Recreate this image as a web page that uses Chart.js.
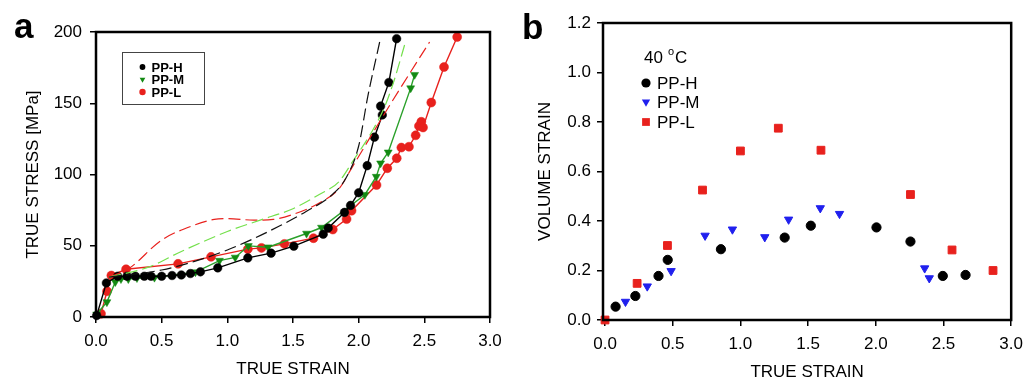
<!DOCTYPE html>
<html>
<head>
<meta charset="utf-8">
<script src="https://cdn.jsdelivr.net/npm/chart.js@4.4.1/dist/chart.umd.min.js"></script>
<style>
body { margin: 0; background: #fff; width: 1031px; height: 383px; position: relative; overflow: hidden; font-family: Arial, "Liberation Sans", sans-serif; }
.wrap { position: absolute; top: 0; height: 383px; }
#wrap-a { left: 0; width: 515px; }
#wrap-b { left: 515px; width: 516px; }
.panel-tag { position: absolute; font-weight: bold; font-size: 35px; line-height: 35px; color: #000; }
</style>
</head>
<body>
<div class="wrap" id="wrap-a"><canvas id="chart-a" width="515" height="383"></canvas></div>
<div class="wrap" id="wrap-b"><canvas id="chart-b" width="516" height="383"></canvas></div>
<div class="panel-tag" style="left:14px;top:8px">a</div>
<div class="panel-tag" style="left:522px;top:9px">b</div>
<script>
// ---- panel a: stress-strain, measured points ----
const hStrain = [0.005, 0.079, 0.165, 0.236, 0.30, 0.368, 0.419, 0.50, 0.579, 0.65, 0.719, 0.795, 0.927, 1.156, 1.333, 1.506, 1.73, 1.768, 1.892, 1.938, 2.0, 2.065, 2.12, 2.18, 2.167, 2.23, 2.289];
const hStress = [1, 23.9, 28.6, 28.6, 28.6, 28.6, 28.6, 28.6, 29.1, 29.5, 30.5, 31.7, 34.5, 41.5, 44.8, 49.7, 58.1, 62.4, 73.4, 78.3, 87.2, 106.2, 126.2, 141.8, 148.0, 164.6, 195.3];

const mStrain = [0.005, 0.083, 0.147, 0.19, 0.246, 0.312, 0.445, 0.757, 0.94, 1.06, 1.16, 1.31, 1.603, 1.717, 2.047, 2.134, 2.167, 2.225, 2.396, 2.426];
const mStress = [1.9, 10.5, 24.6, 26.7, 26.7, 27.4, 27.7, 31.5, 39.6, 41.8, 49.9, 49.0, 58.6, 62.8, 85.8, 98.5, 107.9, 115.6, 160.6, 170.0];

const lStrain = [0.038, 0.084, 0.117, 0.229, 0.625, 0.876, 1.156, 1.26, 1.435, 1.656, 1.803, 1.908, 1.946, 2.136, 2.218, 2.29, 2.325, 2.383, 2.434, 2.459, 2.477, 2.49, 2.553, 2.65, 2.75];
const lStress = [2.3, 18.1, 29.1, 33.5, 37.3, 42.2, 47.6, 48.5, 51.3, 55.3, 61.4, 68.7, 74.6, 92.6, 104.4, 111.4, 118.9, 119.5, 127.5, 134.0, 137.0, 133.0, 150.5, 175.4, 196.5];

// ---- panel a: dashed curves (no markers) ----
const hDashStrain = [0.1, 0.5, 0.75, 1.0, 1.2, 1.4, 1.6, 1.8, 1.9, 2.0, 2.07, 2.16];
const hDashStress = [28, 33, 39, 47, 55, 64, 74, 86, 97, 120, 155, 193];
const mDashStrain = [0.1, 0.4, 0.65, 1.0, 1.25, 1.5, 1.7, 1.85, 1.96, 2.1, 2.2, 2.27, 2.35];
const mDashStress = [28, 35, 46, 60, 68, 76, 86, 95, 110, 130, 148, 166, 191];
const lDashStrain = [0.1, 0.25, 0.5, 0.75, 0.9, 1.0, 1.2, 1.35, 1.5, 1.7, 1.85, 1.95, 2.1, 2.3, 2.54];
const lDashStress = [28, 34, 54, 64.5, 68.5, 69, 68, 68.5, 72, 80, 90, 105, 128, 158, 193];

// ---- panel b: volume strain at 40 C ----
const bHStrain = [0.078, 0.224, 0.395, 0.463, 0.856, 1.327, 1.52, 2.005, 2.256, 2.495, 2.663];
const bHVol = [0.054, 0.097, 0.178, 0.243, 0.286, 0.333, 0.381, 0.374, 0.317, 0.178, 0.182];
const bMStrain = [0.151, 0.312, 0.488, 0.739, 0.941, 1.18, 1.356, 1.59, 1.732, 2.361, 2.395];
const bMVol = [0.074, 0.136, 0.198, 0.341, 0.366, 0.335, 0.406, 0.452, 0.429, 0.209, 0.169];
const bLStrain = [0.0, 0.237, 0.461, 0.72, 1.0, 1.28, 1.595, 2.256, 2.563, 2.866];
const bLVol = [0.0, 0.148, 0.301, 0.525, 0.683, 0.775, 0.686, 0.507, 0.283, 0.2];

const xTicks = [0, 0.5, 1.0, 1.5, 2.0, 2.5, 3.0];
const stressTicks = [0, 50, 100, 150, 200];
const volTicks = [0, 0.2, 0.4, 0.6, 0.8, 1.0, 1.2];
const seriesNames = ['PP-H', 'PP-M', 'PP-L'];

const RED = '#e8211d';
const DKGREEN = '#138a13';
const GREEN = '#2aa02a';
const LIME = '#74e04c';
const BLUE = '#2020ee';

function pts(xs, ys) {
    return xs.map((x, i) => ({ x: x, y: ys[i] }));
}

// box around the plot area
const framePlugin = {
    id: 'frame',
    afterDraw(chart) {
        const a = chart.chartArea;
        const ctx = chart.ctx;
        ctx.save();
        ctx.strokeStyle = '#000';
        ctx.lineWidth = 2.5;
        ctx.strokeRect(a.left, a.top, a.right - a.left, a.bottom - a.top);
        ctx.restore();
    }
};

function axisFont(size) {
    return { family: 'Arial, "Liberation Sans", sans-serif', size: size };
}

function buildScales(cfg) {
    return {
        x: {
            type: 'linear',
            min: cfg.xMin,
            max: 3.0,
            afterBuildTicks: s => { s.ticks = xTicks.map(v => ({ value: v })); },
            afterFit: s => { s.height = cfg.xHeight; },
            border: { display: false },
            grid: { drawOnChartArea: false, drawTicks: true, tickLength: 6, color: '#000', lineWidth: 1.5 },
            ticks: { color: '#000', font: axisFont(17), padding: cfg.xPad, callback: v => v.toFixed(1), maxRotation: 0 },
            title: { display: true, text: 'TRUE STRAIN', color: '#000', font: axisFont(17), padding: { top: 0, bottom: cfg.xTitlePad } }
        },
        y: {
            type: 'linear',
            min: 0,
            max: cfg.yMax,
            afterBuildTicks: s => { s.ticks = cfg.yTicks.map(v => ({ value: v })); },
            afterFit: s => { s.width = cfg.yWidth; },
            border: { display: false },
            grid: { drawOnChartArea: false, drawTicks: true, tickLength: 6, color: '#000', lineWidth: 1.5 },
            ticks: { color: '#000', font: axisFont(17), padding: cfg.yPad, callback: cfg.yFmt },
            title: { display: true, text: cfg.yTitle, color: '#000', font: axisFont(17), padding: { top: cfg.yTitlePad, bottom: 0 } }
        }
    };
}

// legend of panel a (boxed, bold)
const legendA = {
    id: 'legendA',
    afterDraw(chart) {
        const ctx = chart.ctx;
        ctx.save();
        ctx.strokeStyle = '#444';
        ctx.lineWidth = 1;
        ctx.strokeRect(122.5, 52.5, 82, 52);
        const styles = [
            { pointStyle: 'circle', radius: 2.9, rotation: 0, color: '#000' },
            { pointStyle: 'triangle', radius: 3.3, rotation: 180, color: DKGREEN },
            { pointStyle: 'circle', radius: 3.2, rotation: 0, color: RED }
        ];
        const rows = [67, 79.5, 92];
        ctx.font = 'bold 13px Arial, "Liberation Sans", sans-serif';
        ctx.textBaseline = 'middle';
        styles.forEach((st, i) => {
            ctx.fillStyle = st.color;
            ctx.strokeStyle = st.color;
            Chart.helpers.drawPoint(ctx, st, 142.5, rows[i]);
            ctx.fillStyle = '#000';
            ctx.fillText(seriesNames[i], 151.5, rows[i] + 1);
        });
        ctx.restore();
    }
};

// legend of panel b (no box, with temperature)
const legendB = {
    id: 'legendB',
    afterDraw(chart) {
        const ctx = chart.ctx;
        ctx.save();
        ctx.fillStyle = '#000';
        ctx.textBaseline = 'alphabetic';
        ctx.font = '17px Arial, "Liberation Sans", sans-serif';
        ctx.fillText('40', 129, 63);
        ctx.font = '11px Arial, "Liberation Sans", sans-serif';
        ctx.fillText('o', 153, 55);
        ctx.font = '17px Arial, "Liberation Sans", sans-serif';
        ctx.fillText('C', 160, 63);
        const styles = [
            { pointStyle: 'circle', radius: 4.6, rotation: 0, color: '#000' },
            { pointStyle: 'triangle', radius: 4.8, rotation: 180, color: BLUE },
            { pointStyle: 'rect', radius: 5.5, rotation: 0, color: RED }
        ];
        const rows = [83, 102, 122];
        ctx.textBaseline = 'middle';
        styles.forEach((st, i) => {
            ctx.fillStyle = st.color;
            ctx.strokeStyle = st.color;
            Chart.helpers.drawPoint(ctx, st, 131, rows[i]);
            ctx.fillStyle = '#000';
            ctx.fillText(seriesNames[i], 142, rows[i] + 1);
        });
        ctx.restore();
    }
};

function dashed(data, color) {
    return {
        data: data, showLine: true, borderColor: color, borderWidth: 1.2,
        borderDash: [12, 5], pointRadius: 0, tension: 0.35, cubicInterpolationMode: 'monotone', fill: false
    };
}

function marked(data, lineColor, markColor, style, r) {
    return {
        data: data, showLine: true, borderColor: lineColor, borderWidth: 1.4,
        pointStyle: style, pointRadius: r, rotation: style === 'triangle' ? 180 : 0,
        pointBackgroundColor: markColor, pointBorderColor: markColor, pointBorderWidth: 0.5, tension: 0, fill: false
    };
}

new Chart(document.getElementById('chart-a'), {
    type: 'scatter',
    data: {
        datasets: [
            dashed(pts(hDashStrain, hDashStress), '#111'),
            dashed(pts(mDashStrain, mDashStress), LIME),
            dashed(pts(lDashStrain, lDashStress), RED),
            marked(pts(hStrain, hStress), '#000', '#000', 'circle', 4.3),
            marked(pts(mStrain, mStress), GREEN, DKGREEN, 'triangle', 4.6),
            marked(pts(lStrain, lStress), RED, RED, 'circle', 4.5)
        ]
    },
    options: {
        responsive: false,
        animation: false,
        clip: false,
        layout: { padding: { top: 32, right: 25, left: 0, bottom: 0 } },
        plugins: { legend: { display: false }, tooltip: { enabled: false } },
        scales: buildScales({
            xMin: 0, xHeight: 66, xPad: 8, xTitlePad: 3,
            yMax: 200, yTicks: stressTicks, yWidth: 96, yPad: 8, yTitlePad: 23,
            yTitle: 'TRUE STRESS [MPa]', yFmt: v => String(v)
        })
    },
    plugins: [framePlugin, legendA]
});

new Chart(document.getElementById('chart-b'), {
    type: 'scatter',
    data: {
        datasets: [
            { data: pts(bHStrain, bHVol), pointStyle: 'circle', pointRadius: 4.6, backgroundColor: '#000', borderColor: '#000' },
            { data: pts(bMStrain, bMVol), pointStyle: 'triangle', rotation: 180, pointRadius: 4.8, backgroundColor: BLUE, borderColor: BLUE },
            { data: pts(bLStrain, bLVol), pointStyle: 'rect', pointRadius: 5.5, backgroundColor: RED, borderColor: RED }
        ]
    },
    options: {
        responsive: false,
        animation: false,
        clip: false,
        layout: { padding: { top: 23, right: 14, left: 0, bottom: 0 } },
        plugins: { legend: { display: false }, tooltip: { enabled: false } },
        scales: buildScales({
            xMin: -0.015, xHeight: 63, xPad: 8, xTitlePad: 0,
            yMax: 1.2, yTicks: volTicks, yWidth: 88, yPad: 6, yTitlePad: 20,
            yTitle: 'VOLUME STRAIN', yFmt: v => v.toFixed(1)
        })
    },
    plugins: [framePlugin, legendB]
});
</script>
</body>
</html>
